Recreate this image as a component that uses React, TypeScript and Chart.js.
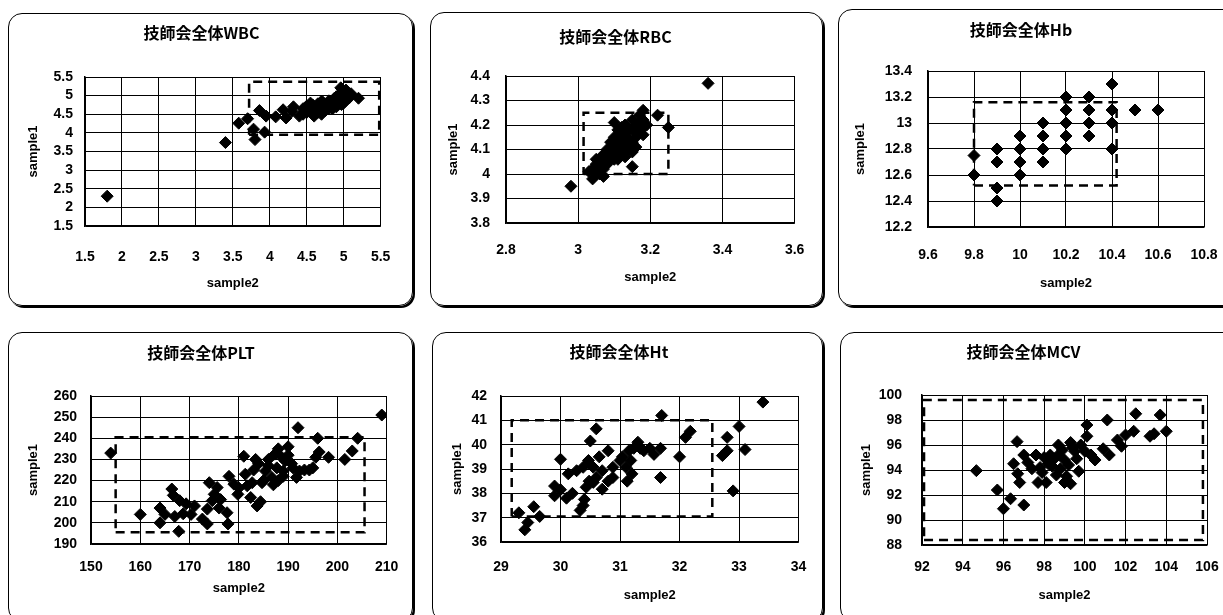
import { useEffect, useRef } from "react";
import { Chart, registerables } from "chart.js";
Chart.register(...registerables);

// ---------- data: [sample2, sample1] ----------
const wbcPoints: number[][] = [
  [1.8, 2.3], [3.4, 3.74], [3.58, 4.26], [3.7, 4.38], [3.78, 4.1], [3.8, 3.82], [3.86, 4.6],
  [3.93, 4.02], [3.95, 4.45], [4.08, 4.43], [4.18, 4.62], [4.22, 4.4], [4.32, 4.7], [4.4, 4.45],
  [4.3, 4.58], [4.45, 4.65], [4.5, 4.55], [4.5, 4.72], [4.55, 4.62], [4.6, 4.45], [4.6, 4.7],
  [4.62, 4.58], [4.65, 4.78], [4.7, 4.5], [4.7, 4.66], [4.72, 4.82], [4.75, 4.6], [4.78, 4.72],
  [4.8, 4.86], [4.8, 4.65], [4.85, 4.78], [4.87, 4.92], [4.9, 4.7], [4.9, 4.97], [4.92, 4.84],
  [4.95, 5.05], [4.96, 5.21], [4.95, 4.88], [4.97, 4.76], [5.0, 4.95], [5.0, 5.1], [5.02, 4.85],
  [5.05, 5.02], [5.08, 4.95], [5.1, 5.05], [5.2, 4.93], [4.55, 4.8], [4.65, 4.55], [4.85, 4.65], [5.0, 4.8],
  [4.52, 4.68], [4.68, 4.62], [4.75, 4.75], [4.82, 4.8], [4.88, 4.85], [4.93, 4.95], [5.03, 5.15],
  [4.45, 4.5], [4.58, 4.75], [4.7, 4.85],
];
const wbcBoxX = [3.72, 5.48];
const wbcBoxY = [3.95, 5.37];
const wbcXTicks = [1.5, 5.5, 0.5];
const wbcYTicks = [1.5, 5.5, 0.5];

const rbcPoints: number[][] = [
  [2.98, 3.95], [3.36, 4.37], [3.22, 4.24], [3.25, 4.19], [3.18, 4.26], [3.1, 4.21], [3.15, 4.03],
  [3.04, 3.98], [3.07, 3.99], [3.03, 4.01], [3.04, 4.02], [3.05, 4.0], [3.05, 4.04], [3.06, 4.03],
  [3.06, 4.06], [3.07, 4.05], [3.07, 4.08], [3.08, 4.04], [3.08, 4.07], [3.09, 4.06], [3.09, 4.1],
  [3.1, 4.08], [3.1, 4.12], [3.11, 4.1], [3.11, 4.14], [3.12, 4.09], [3.12, 4.13], [3.13, 4.12],
  [3.13, 4.16], [3.14, 4.1], [3.14, 4.14], [3.15, 4.13], [3.15, 4.18], [3.16, 4.15], [3.16, 4.2],
  [3.17, 4.17], [3.17, 4.21], [3.18, 4.16], [3.18, 4.19], [3.12, 4.16], [3.1, 4.06], [3.13, 4.07],
  [3.08, 4.1], [3.06, 4.0], [3.15, 4.22], [3.11, 4.18], [3.19, 4.2],
  [3.05, 4.06], [3.09, 4.13], [3.11, 4.06], [3.14, 4.18], [3.16, 4.11], [3.17, 4.24], [3.13, 4.2],
  [3.07, 4.02], [3.1, 4.15], [3.12, 4.19], [3.15, 4.09], [3.18, 4.22],
];
const rbcBoxX = [3.015, 3.25];
const rbcBoxY = [4.0, 4.25];
const rbcXTicks = [2.8, 3.6, 0.2];
const rbcYTicks = [3.8, 4.4, 0.1];

const hbPoints: number[][] = [
  [9.8, 12.75], [9.8, 12.6], [9.9, 12.8], [9.9, 12.7], [9.9, 12.5], [9.9, 12.4],
  [10.0, 12.9], [10.0, 12.8], [10.0, 12.7], [10.0, 12.6],
  [10.1, 13.0], [10.1, 12.9], [10.1, 12.8], [10.1, 12.7],
  [10.2, 13.2], [10.2, 13.1], [10.2, 13.0], [10.2, 12.9], [10.2, 12.8],
  [10.3, 13.2], [10.3, 13.1], [10.3, 13.0], [10.3, 12.9],
  [10.4, 13.3], [10.4, 13.1], [10.4, 13.0], [10.4, 12.8], [10.5, 13.1], [10.6, 13.1],
];
const hbBoxX = [9.8, 10.42];
const hbBoxY = [12.52, 13.16];
const hbXTicks = [9.6, 10.8, 0.2];
const hbYTicks = [12.2, 13.4, 0.2];

const pltPoints: number[][] = [
  [154, 233], [160, 204], [164, 200], [164, 207], [165, 204], [166.4, 216], [166.7, 213], [167, 203],
  [167.8, 196], [168, 210.5], [168.7, 204.3], [169.3, 209], [170.3, 204], [171, 208], [172.6, 201.8],
  [173.6, 199.5], [173.6, 206.5], [174, 219], [174.6, 210.5], [175, 213.5], [175.6, 216.7], [176, 207],
  [176.3, 211], [177.6, 204.8], [177.8, 199.5], [178, 222], [179, 218.3], [179.8, 213.5], [180, 216.5],
  [181, 231.5], [181.3, 223], [181.7, 217.5], [182.4, 212], [182.7, 219], [183.4, 230], [183.7, 208],
  [184.4, 210], [184.7, 219], [185.4, 224.5], [186, 227], [186.7, 221.5], [187.3, 232.5], [187.7, 226],
  [188, 220], [188.7, 231], [189, 224.5], [189.4, 229.3], [190, 236], [190.7, 228], [191.7, 221.5],
  [192, 245], [192.3, 224.5], [193.3, 225], [194.3, 225], [195, 226], [195.6, 231], [196, 240],
  [196.3, 233.5], [198.2, 231], [201.5, 230], [203, 234], [204.1, 240], [209, 251],
  [183, 225], [185, 220], [186, 230], [188, 235], [189, 222], [190, 232], [191, 226], [187, 218], [184, 228],
];
const pltBoxX = [155, 205.5];
const pltBoxY = [195.5, 240.5];
const pltXTicks = [150, 210, 10];
const pltYTicks = [190, 260, 10];

const htPoints: number[][] = [
  [33.4, 41.75], [31.7, 41.2], [33.0, 40.75], [32.8, 40.3], [32.8, 39.75], [32.72, 39.55], [33.1, 39.8],
  [32.9, 38.1], [32.18, 40.55], [32.1, 40.3], [32.0, 39.5], [31.68, 38.65], [30.6, 40.65], [30.5, 40.15],
  [30.0, 39.4], [29.9, 38.3], [29.9, 37.9], [30.0, 38.15], [30.1, 37.8], [30.2, 38.0], [30.13, 38.8],
  [30.27, 38.93], [29.3, 37.2], [29.45, 36.8], [29.4, 36.5], [29.55, 37.45], [29.65, 37.05], [30.33, 37.3],
  [30.38, 37.5], [30.4, 37.75], [30.43, 38.25], [30.48, 38.5], [30.38, 39.07], [30.47, 39.35], [30.55, 39.07],
  [30.6, 38.65], [30.65, 39.5], [30.7, 38.93], [30.7, 38.17], [30.8, 39.75], [30.8, 38.5], [30.88, 39.07],
  [31.0, 39.35], [31.04, 39.5], [31.1, 39.07], [31.12, 38.5], [31.15, 39.75], [31.18, 39.35], [31.2, 38.8],
  [31.23, 39.85], [31.3, 40.1], [31.34, 39.85], [31.4, 39.75], [31.5, 39.85], [31.57, 39.6], [31.68, 39.85],
  [30.55, 38.45], [30.88, 38.65],
];
const htBoxX = [29.18, 32.55];
const htBoxY = [37.05, 41.0];
const htXTicks = [29, 34, 1];
const htYTicks = [36, 42, 1];

const mcvPoints: number[][] = [
  [94.67, 93.95], [95.7, 92.4], [96.35, 91.7], [96.0, 90.9], [97.0, 91.2], [96.67, 96.27], [97.0, 95.2],
  [96.5, 94.5], [96.7, 93.7], [96.8, 93.0], [97.4, 94.1], [97.6, 95.2], [97.7, 93.0], [98.1, 93.0],
  [98.2, 94.5], [98.7, 96.0], [98.5, 94.9], [98.8, 94.1], [99.0, 93.0], [99.3, 92.9], [99.5, 95.5],
  [99.7, 93.9], [99.8, 96.0], [100.1, 96.7], [100.1, 97.6], [100.3, 95.2], [100.5, 94.8], [101.1, 98.0],
  [100.9, 95.7], [101.2, 95.2], [101.6, 96.4], [101.8, 95.9], [102.0, 96.8], [102.5, 98.5], [102.4, 97.1],
  [103.2, 96.7], [103.4, 96.9], [103.7, 98.4], [104.0, 97.1],
  [97.2, 94.6], [97.8, 94.2], [98.3, 95.2], [98.6, 93.6], [98.9, 95.6], [99.2, 94.4], [99.4, 95.8],
  [99.1, 93.5], [98.4, 94.3], [97.9, 93.8], [99.6, 94.9], [100.0, 95.5], [98.7, 95.2], [99.3, 96.2],
  [98.0, 95.0], [99.0, 94.8],
];
const mcvBoxX = [92.1, 105.8];
const mcvBoxY = [88.4, 99.6];
const mcvXTicks = [92, 106, 2];
const mcvYTicks = [88, 100, 2];

const titlePrefix = "技師会全体";
const xAxisTitle = "sample2";
const yAxisTitle = "sample1";

// ---------- layout (page / canvas coordinates) ----------
type Cfg = {
  name: string; points: number[][]; boxX: number[]; boxY: number[]; xt: number[]; yt: number[];
  left: number; top: number; W: number; H: number;
  L: number; R: number; T: number; B: number;
  titleY: number; xTickGap: number; xTitleY: number; yTitleX: number; yTickGap: number;
};

const panels: Cfg[] = [
  { name: "WBC", points: wbcPoints, boxX: wbcBoxX, boxY: wbcBoxY, xt: wbcXTicks, yt: wbcYTicks,
    left: 8, top: 13, W: 405, H: 293, L: 77, R: 387, T: 64, B: 213, titleY: 20, xTickGap: 31, xTitleY: 270, yTitleX: 25, yTickGap: 12 },
  { name: "RBC", points: rbcPoints, boxX: rbcBoxX, boxY: rbcBoxY, xt: rbcXTicks, yt: rbcYTicks,
    left: 430, top: 12, W: 393, H: 294, L: 76, R: 371, T: 64, B: 211, titleY: 25, xTickGap: 27, xTitleY: 265, yTitleX: 23, yTickGap: 16 },
  { name: "Hb", points: hbPoints, boxX: hbBoxX, boxY: hbBoxY, xt: hbXTicks, yt: hbYTicks,
    left: 838, top: 9, W: 400, H: 297, L: 90, R: 366, T: 62, B: 218, titleY: 21, xTickGap: 28, xTitleY: 274, yTitleX: 22, yTickGap: 16 },
  { name: "PLT", points: pltPoints, boxX: pltBoxX, boxY: pltBoxY, xt: pltXTicks, yt: pltYTicks,
    left: 8, top: 332, W: 405, H: 290, L: 83, R: 386, T: 64, B: 212, titleY: 21, xTickGap: 23, xTitleY: 256, yTitleX: 25, yTickGap: 14 },
  { name: "Ht", points: htPoints, boxX: htBoxX, boxY: htBoxY, xt: htXTicks, yt: htYTicks,
    left: 432, top: 332, W: 391, H: 290, L: 69, R: 374, T: 64, B: 210, titleY: 20, xTickGap: 25, xTitleY: 263, yTitleX: 25, yTickGap: 14 },
  { name: "MCV", points: mcvPoints, boxX: mcvBoxX, boxY: mcvBoxY, xt: mcvXTicks, yt: mcvYTicks,
    left: 840, top: 332, W: 400, H: 290, L: 82, R: 367, T: 63, B: 213, titleY: 20, xTickGap: 22, xTitleY: 263, yTitleX: 26, yTickGap: 20 },
];

const TICK_FONT = "'Liberation Sans', Arial, sans-serif";
const TITLE_FONT = "'Noto Sans CJK JP', 'Liberation Sans', sans-serif";
const TICK_SIZE = 14;
const TITLE_SIZE = 16;
const AXT_SIZE = 13;

function boxPath(bx: number[], by: number[]) {
  return [
    { x: bx[0], y: by[0] }, { x: bx[1], y: by[0] }, { x: bx[1], y: by[1] },
    { x: bx[0], y: by[1] }, { x: bx[0], y: by[0] },
  ];
}

const fmt = (v: any) => String(Number(Number(v).toFixed(3)));

function Panel({ c }: { c: Cfg }) {
  const ref = useRef<HTMLCanvasElement>(null);
  useEffect(() => {
    const tickLh = TICK_SIZE * 1.2;
    const titleLh = TITLE_SIZE * 1.2;
    const axLh = AXT_SIZE * 1.2;
    const tickFont = { family: TICK_FONT, size: TICK_SIZE, weight: "bold" as const };
    const axFont = { family: TICK_FONT, size: AXT_SIZE, weight: "bold" as const };
    const chart = new Chart(ref.current!, {
      type: "scatter",
      data: {
        datasets: [
          {
            data: c.points.map(([x, y]) => ({ x, y })),
            pointStyle: "rectRot", pointRadius: 6, pointBackgroundColor: "#000",
            pointBorderColor: "#000", pointBorderWidth: 1, showLine: false,
          },
          {
            data: boxPath(c.boxX, c.boxY), showLine: true, borderColor: "#000", borderWidth: 2.5,
            borderDash: [9, 6], pointRadius: 0, fill: false, clip: false as any, tension: 0,
          },
        ],
      },
      options: {
        responsive: false, animation: false, events: [],
        layout: { padding: { left: 0, right: c.W - c.R, top: 0, bottom: 0 } },
        plugins: {
          legend: { display: false }, tooltip: { enabled: false },
          title: {
            display: true, text: titlePrefix + c.name, color: "#000",
            font: { family: TITLE_FONT, size: TITLE_SIZE, weight: "bold" },
            padding: { top: c.titleY - titleLh / 2, bottom: c.T - c.titleY - titleLh / 2 },
          },
        },
        scales: {
          x: {
            type: "linear", min: c.xt[0], max: c.xt[1],
            ticks: { stepSize: c.xt[2], color: "#000", font: tickFont, padding: c.xTickGap - tickLh / 2, autoSkip: false, maxRotation: 0, callback: fmt },
            grid: { color: "#000", lineWidth: 1, drawTicks: false },
            border: { color: "#000", width: 1.5 },
            title: { display: true, text: xAxisTitle, color: "#000", font: axFont, padding: { top: 0, bottom: c.H - c.xTitleY - axLh / 2 } },
            afterFit: (s: any) => { s.height = c.H - c.B; },
          },
          y: {
            type: "linear", min: c.yt[0], max: c.yt[1],
            ticks: { stepSize: c.yt[2], color: "#000", font: tickFont, padding: c.yTickGap, autoSkip: false, callback: fmt },
            grid: { color: "#000", lineWidth: 1, drawTicks: false },
            border: { color: "#000", width: 1.5 },
            title: { display: true, text: yAxisTitle, color: "#000", font: axFont, padding: { top: c.yTitleX - axLh / 2, bottom: 0 } },
            afterFit: (s: any) => { s.width = c.L; },
          },
        },
      } as any,
    });
    return () => chart.destroy();
  }, [c]);
  return (
    <div style={{ position: "absolute", left: c.left, top: c.top, width: c.W, height: c.H, background: "#fff" }}>
      <canvas ref={ref} width={c.W} height={c.H} style={{ position: "absolute", left: 0, top: 0 }} />
      <div style={{
        position: "absolute", left: 0, top: 0, width: c.W, height: c.H, boxSizing: "border-box",
        border: "1.5px solid #000", borderRadius: 14, boxShadow: "2px 2px 0 #000", pointerEvents: "none",
      }} />
    </div>
  );
}

export default function App() {
  return (
    <div style={{ position: "absolute", left: 0, top: 0, width: 1223, height: 615, overflow: "hidden", background: "#fff" }}>
      {panels.map((p) => <Panel key={p.name} c={p} />)}
    </div>
  );
}
